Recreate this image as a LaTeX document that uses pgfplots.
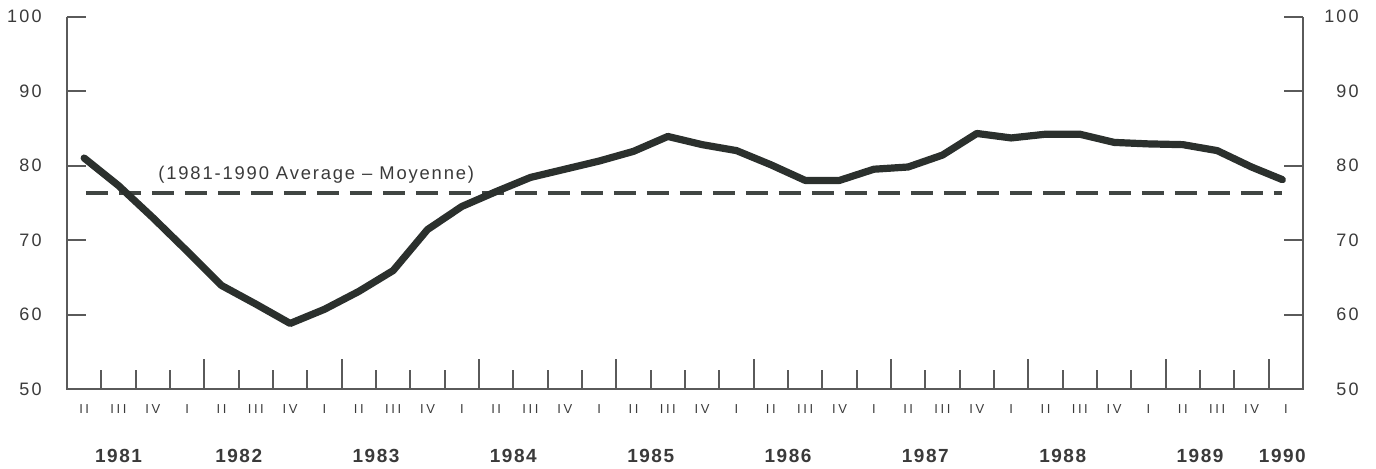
\documentclass[border=0pt]{standalone}
\usepackage{fontspec}
\setmainfont{Liberation Sans}
\newfontfamily\numfont[LetterSpace=12]{Liberation Sans}
\newfontfamily\qfont[LetterSpace=20]{Liberation Sans}
\newfontfamily\yrfont[LetterSpace=8]{Liberation Sans}
\newfontfamily\legfont[LetterSpace=10]{Liberation Sans}
\usepackage{pgfplots}
\pgfplotsset{compat=1.18}
\definecolor{axcol}{HTML}{5A5A5A}
\definecolor{txtcol}{HTML}{3A3A3A}
\definecolor{linecol}{HTML}{2B302D}
\begin{document}
\begin{tikzpicture}[x=1pt,y=1pt]
\useasboundingbox (0,0) rectangle (688,234);
% frame, ticks, data, left labels
\begin{axis}[
  at={(33.5pt,39.5pt)}, anchor=south west,
  scale only axis, width=618pt, height=186.25pt,
  xmin=0, xmax=36, ymin=50, ymax=100,
  axis line style={draw=none},
  tick align=inside,
  xtick={1,...,35}, xticklabels={},
  extra x ticks={4,8,12,16,20,24,28,32,35},
  extra x tick labels={},
  extra x tick style={major tick length=15pt},
  ytick={50,60,70,80,90,100},
  xtick pos=bottom, ytick pos=both,
  major tick length=9.5pt,
  tick style={draw=axcol, line width=1pt},
  /pgf/number format/assume math mode=true,
  yticklabel style={font=\numfont\fontsize{9}{10}\selectfont, text=txtcol, inner sep=0pt, anchor=east, xshift=-12.5pt},
  clip=false,
]
\draw[axcol, line width=1pt] (rel axis cs:0,1) -- (rel axis cs:0,0) -- (rel axis cs:1,0) -- (rel axis cs:1,1);
\addplot[draw=linecol!90, line width=2pt, dash pattern=on 11pt off 5.5pt] coordinates {(0.55,76.3) (35.4,76.3)};
\addplot[draw=linecol, line width=3.6pt, line join=round, line cap=round] coordinates {
(0.5,81.0) (1.5,77.3) (2.5,73.0) (3.5,68.5) (4.5,63.9) (5.5,61.4) (6.5,58.8) (7.5,60.7)
(8.5,63.1) (9.5,65.9) (10.5,71.4) (11.5,74.5) (12.5,76.5) (13.5,78.4) (14.5,79.5) (15.5,80.6)
(16.5,81.9) (17.5,83.9) (18.5,82.8) (19.5,82.0) (20.5,80.1) (21.5,78.0) (22.5,78.0) (23.5,79.5)
(24.5,79.8) (25.5,81.4) (26.5,84.3) (27.5,83.7) (28.5,84.2) (29.5,84.2) (30.5,83.1) (31.5,82.9)
(32.5,82.8) (33.5,82.0) (34.5,79.8) (35.4,78.1)};
\node[anchor=west, inner sep=0pt, text=txtcol, font=\legfont\fontsize{9.2}{10}\selectfont] at (axis cs:2.65,78.8) {(1981-1990 Average – Moyenne)};
\end{axis}
% quarter labels, year labels, right labels
\begin{axis}[
  at={(33.5pt,39.5pt)}, anchor=south west,
  scale only axis, width=618pt, height=186.25pt,
  xmin=0, xmax=36, ymin=50, ymax=100,
  axis line style={draw=none},
  major tick length=0pt, tick style={draw=none},
  xtick={0.5,1.5,...,35.5},
  xticklabels={II,III,IV,I,II,III,IV,I,II,III,IV,I,II,III,IV,I,II,III,IV,I,II,III,IV,I,II,III,IV,I,II,III,IV,I,II,III,IV,I},
  xticklabel style={font=\qfont\fontsize{6.5}{7}\selectfont, text=txtcol, anchor=center, inner sep=0pt, yshift=-10pt},
  extra x ticks={1.5,5,9,13,17,21,25,29,33,35.4},
  extra x tick labels={1981,1982,1983,1984,1985,1986,1987,1988,1989,1990},
  extra x tick style={xticklabel style={font=\yrfont\bfseries\fontsize{9.5}{11}\selectfont, yshift=-23.5pt}},
  ytick={50,60,70,80,90,100},
  yticklabel pos=right,
  /pgf/number format/assume math mode=true,
  yticklabel style={font=\numfont\fontsize{9}{10}\selectfont, text=txtcol, inner sep=0pt, anchor=east, xshift=28pt},
]
\end{axis}
\end{tikzpicture}
\end{document}
